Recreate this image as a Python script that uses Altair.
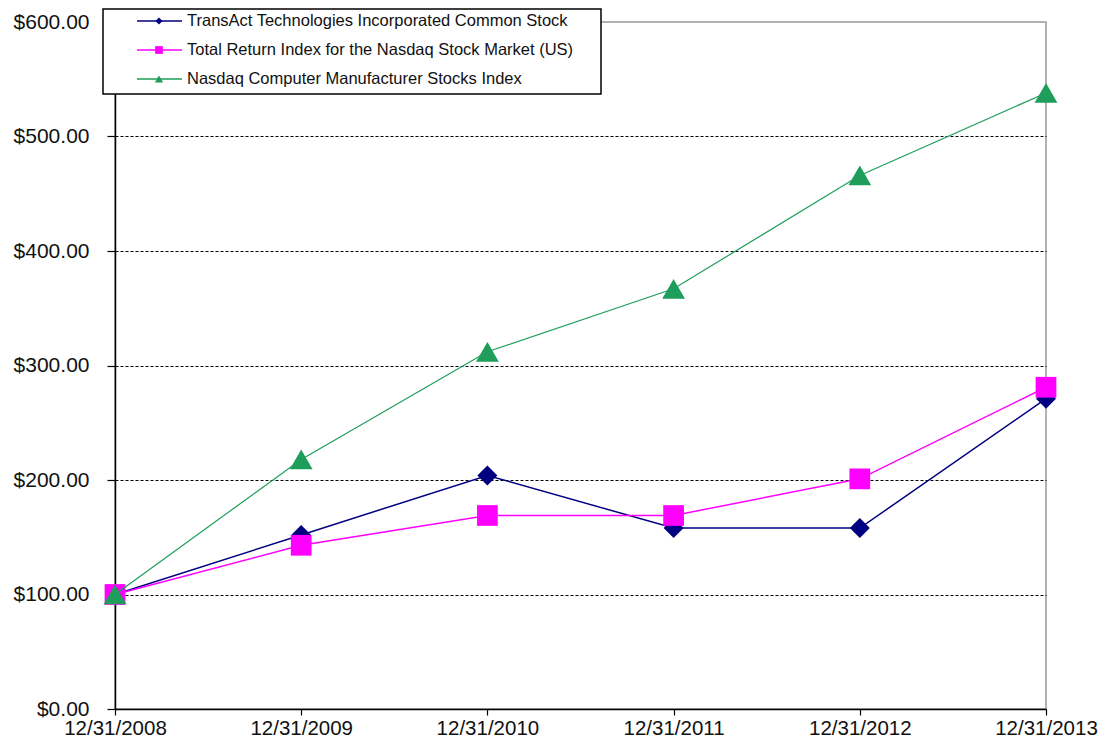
import altair as alt
import pandas as pd

dates = ["12/31/2008", "12/31/2009", "12/31/2010", "12/31/2011", "12/31/2012", "12/31/2013"]
series_names = [
    "TransAct Technologies Incorporated Common Stock",
    "Total Return Index for the Nasdaq Stock Market (US)",
    "Nasdaq Computer Manufacturer Stocks Index",
]
transact = [100, 152, 204, 158, 158, 271]
nasdaq_total = [100, 143, 169, 169, 201, 281]
computer_mfr = [100, 218, 312, 367, 466, 538]
y_ticks = [0, 100, 200, 300, 400, 500, 600]

colors = ["#000080", "#FF00FF", "#1E9E5A"]
shapes = ["diamond", "square", "triangle-up"]
marker_sizes = [400, 430, 520]
legend_sizes = [50, 60, 70]
line_widths = [1.5, 1.5, 1.2]

values_list = [transact, nasdaq_total, computer_mfr]

FONT = "Liberation Sans"

x_enc = alt.X(
    "date:O",
    sort=dates,
    scale=alt.Scale(type="point", padding=0, domain=dates),
    axis=alt.Axis(
        title=None, labelAngle=0, labelFontSize=20.5, labelFont=FONT, labelColor="#111",
        domainColor="black", domainWidth=1.5, tickColor="black", tickSize=6, tickWidth=1.2,
        labelPadding=3, grid=False,
    ),
)
y_enc = alt.Y(
    "value:Q",
    scale=alt.Scale(domain=[0, 600], nice=False, zero=True),
    axis=alt.Axis(
        title=None, values=y_ticks, format="$.2f", labelFontSize=21, labelFont=FONT,
        labelColor="#111", domainColor="black", domainWidth=1.5, tickColor="black",
        tickSize=8, tickWidth=1.2, labelPadding=18,
        grid=True, gridColor="black", gridDash=[3, 2], gridWidth=1,
        gridOpacity={"condition": {"test": "datum.value == 0 || datum.value == 600", "value": 0}, "value": 1},
    ),
)

layers = []
for i, name in enumerate(series_names):
    df = pd.DataFrame({"date": dates, "value": values_list[i], "series": name})
    base = alt.Chart(df)
    layers.append(
        base.mark_line(color=colors[i], strokeWidth=line_widths[i]).encode(x=x_enc, y=y_enc)
    )
    layers.append(
        base.mark_point(
            shape=shapes[i], filled=True, color=colors[i], size=marker_sizes[i], opacity=1, strokeWidth=0
        ).encode(x=x_enc, y=y_enc)
    )

# Legend box (decoration)
legend_df = pd.DataFrame({"k": [0]})
lg = alt.Chart(legend_df)
layers.append(
    lg.mark_rect(fill="white", stroke="black", strokeWidth=1.5).encode(
        x=alt.value(-12), x2=alt.value(486), y=alt.value(-13), y2=alt.value(72)
    )
)
row_y = [-1, 28, 57]
for i, name in enumerate(series_names):
    layers.append(
        lg.mark_rule(color=colors[i], strokeWidth=1.3).encode(
            x=alt.value(22), x2=alt.value(67), y=alt.value(row_y[i])
        )
    )
    layers.append(
        lg.mark_point(shape=shapes[i], filled=True, color=colors[i], size=legend_sizes[i], opacity=1).encode(
            x=alt.value(44), y=alt.value(row_y[i])
        )
    )
    layers.append(
        lg.mark_text(text=name, align="left", baseline="middle", fontSize=16.5, font=FONT, color="#111").encode(
            x=alt.value(72), y=alt.value(row_y[i])
        )
    )

chart = (
    alt.layer(*layers)
    .properties(
        width=931,
        height=687,
        autosize=alt.AutoSizeParams(type="none"),
        padding={"left": 107, "top": 14, "right": 52, "bottom": 29},
        background="white",
    )
    .configure_view(stroke="#999999", strokeWidth=1.5)
)

chart.save("out.html", embed_options={"renderer": "svg", "actions": False})
